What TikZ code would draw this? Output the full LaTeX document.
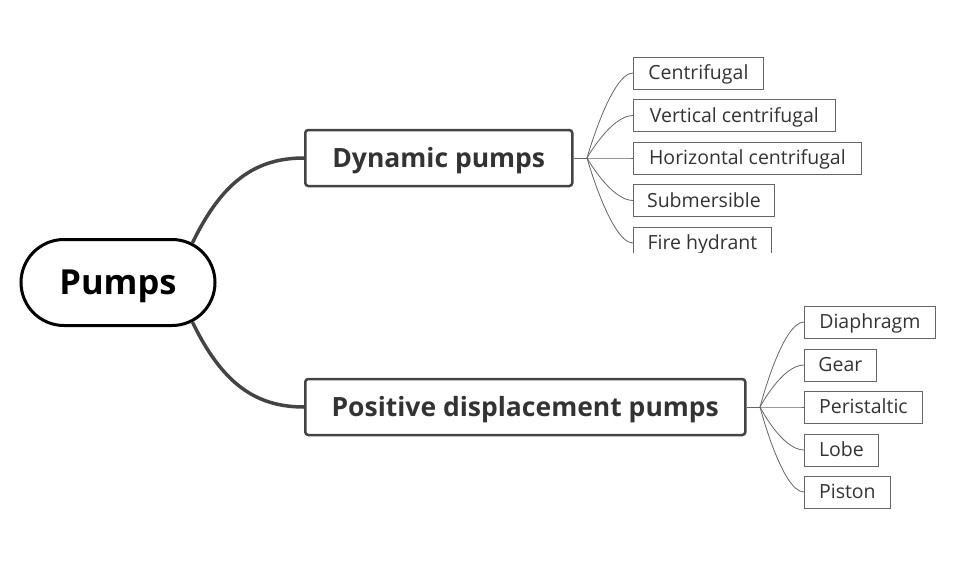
\documentclass[tikz,border=0pt]{standalone}
\usepackage{fontspec}
\setmainfont{Open Sans}
\usetikzlibrary{shapes.misc,calc}
\definecolor{maingray}{HTML}{444444}
\definecolor{txtgray}{HTML}{333333}
\definecolor{thingray}{HTML}{666666}
\tikzset{
  rootbox/.style={rounded rectangle, draw=black, line width=3pt, minimum width=194pt, minimum height=86pt, font=\fontsize{34.5}{38}\selectfont\bfseries, text=black, inner sep=0pt, text height=24.6pt, text depth=0pt},
  mainbox/.style={draw=maingray, line width=2.5pt, rounded corners=3pt, minimum height=56pt, font=\fontsize{26.5}{30}\selectfont\bfseries, text=txtgray, inner sep=0pt, anchor=west, text height=18.9pt, text depth=0pt},
  leafbox/.style={draw=thingray, line width=0.8pt, minimum height=32pt, font=\fontsize{19.5}{23}\selectfont, text=txtgray, inner sep=0pt, anchor=west, text height=13.9pt, text depth=0pt},
  mainlink/.style={draw=maingray, line width=3.5pt},
  leaflink/.style={draw=thingray, line width=0.8pt},
}
\begin{document}
\begin{tikzpicture}[x=1pt,y=-1pt]
\useasboundingbox (0,0) rectangle (960,570);
\node[rootbox] (pumps) at (118,282.5) {Pumps};
\node[mainbox, minimum width=267pt] (dyn) at (304,158) {Dynamic pumps};
\node[mainbox, minimum width=440pt] (pos) at (304,407) {Positive displacement pumps};
\draw[mainlink] (pumps.28) .. controls (222,182) and (255,158) .. (dyn.west);
\draw[mainlink] (pumps.-28) .. controls (222,383) and (255,407) .. (pos.west);
% dynamic children
\coordinate (df) at (587,158);
\node[leafbox, minimum width=130pt] (c1) at (633,73) {Centrifugal};
\node[leafbox, minimum width=202pt] (c2) at (633,115.5) {Vertical centrifugal};
\node[leafbox, minimum width=228pt] (c3) at (633,158) {Horizontal centrifugal};
\node[leafbox, minimum width=141pt] (c4) at (633,200.5) {Submersible};
\begin{scope}
\clip (600,0) rectangle (960,252.5);
\node[leafbox, minimum width=138pt] (c5) at (633,243) {Fire hydrant};
\end{scope}
\draw[leaflink] (dyn.east) -- (df);
\foreach \c in {c1,c2,c3,c4,c5}{
  \draw[leaflink] (df) .. controls (df) and ($(\c.west)+(-22,0)$) .. (\c.west);
}
% positive children
\coordinate (pf) at (760,407);
\node[leafbox, minimum width=131pt] (d1) at (804,322) {Diaphragm};
\node[leafbox, minimum width=72pt] (d2) at (804,365) {Gear};
\node[leafbox, minimum width=118pt] (d3) at (804,407) {Peristaltic};
\node[leafbox, minimum width=74pt] (d4) at (804,450) {Lobe};
\node[leafbox, minimum width=86pt] (d5) at (804,492) {Piston};
\draw[leaflink] (pos.east) -- (pf);
\foreach \c in {d1,d2,d3,d4,d5}{
  \draw[leaflink] (pf) .. controls (pf) and ($(\c.west)+(-22,0)$) .. (\c.west);
}
\end{tikzpicture}
\end{document}
